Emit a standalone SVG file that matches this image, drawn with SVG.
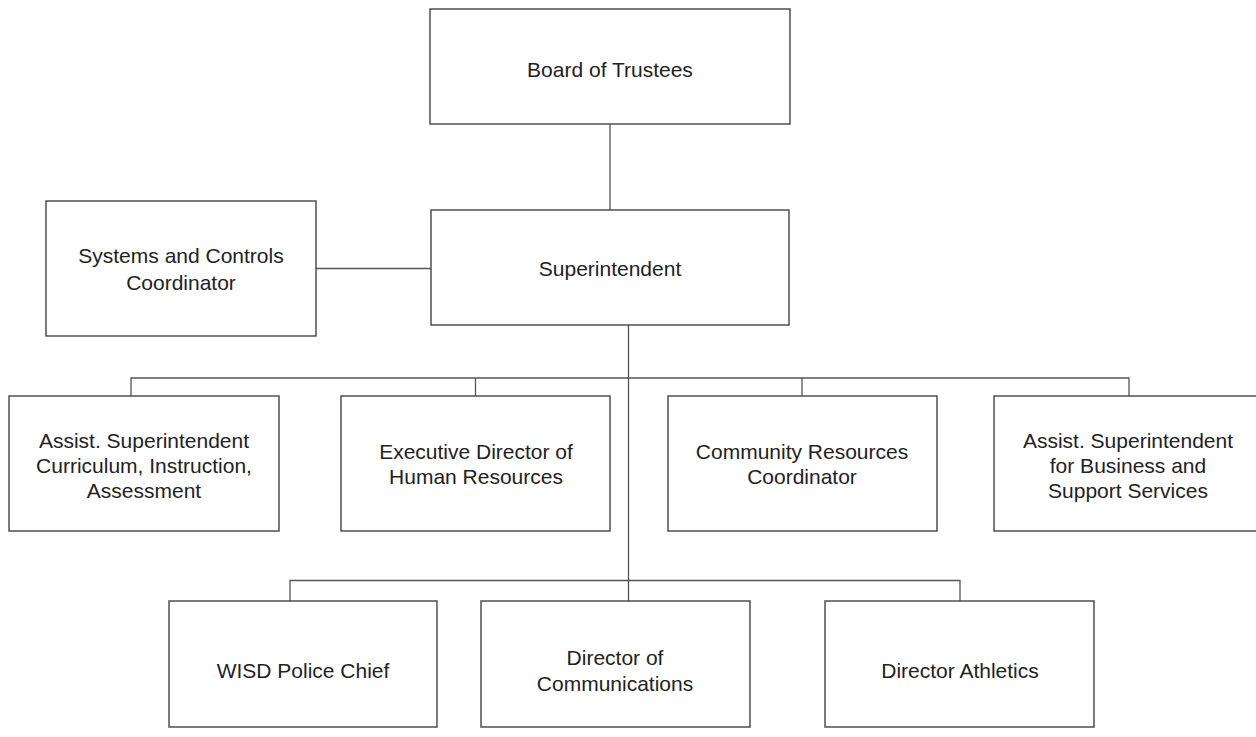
<svg xmlns="http://www.w3.org/2000/svg" width="1256" height="737" viewBox="0 0 1256 737">
<style>
.box{fill:#fff;stroke:#444;stroke-width:1.4}
.t{font-family:"Liberation Sans",Arial,sans-serif;font-size:21px;fill:#222;text-anchor:middle}
.c{fill:none;stroke:#555;stroke-width:1.3}
</style>
<rect width="1256" height="737" fill="#fff"/>
<g id="connectors">
<line class="c" x1="610" y1="124" x2="610" y2="210"/>
<line class="c" x1="316" y1="268.5" x2="431" y2="268.5"/>
<line class="c" x1="628.5" y1="325" x2="628.5" y2="601"/>
<polyline class="c" points="131,396 131,378 1129,378 1129,396"/>
<line class="c" x1="475.5" y1="378" x2="475.5" y2="396"/>
<line class="c" x1="802" y1="378" x2="802" y2="396"/>
<polyline class="c" points="290,601 290,580.5 960,580.5 960,601"/>
</g>
<g id="board"><rect class="box" x="430" y="9" width="360" height="115"/><text class="t" x="610" y="77">Board of Trustees</text></g>
<g id="systems"><rect class="box" x="46" y="201" width="270" height="135"/><text class="t" x="181" y="263">Systems and Controls</text><text class="t" x="181" y="290">Coordinator</text></g>
<g id="superintendent"><rect class="box" x="431" y="210" width="358" height="115"/><text class="t" x="610" y="276">Superintendent</text></g>
<g id="assist-curriculum"><rect class="box" x="9" y="396" width="270" height="135"/><text class="t" x="144" y="448">Assist. Superintendent</text><text class="t" x="144" y="473">Curriculum, Instruction,</text><text class="t" x="144" y="498">Assessment</text></g>
<g id="exec-hr"><rect class="box" x="341" y="396" width="269" height="135"/><text class="t" x="476" y="459">Executive Director of</text><text class="t" x="476" y="484">Human Resources</text></g>
<g id="community"><rect class="box" x="668" y="396" width="269" height="135"/><text class="t" x="802" y="459">Community Resources</text><text class="t" x="802" y="484">Coordinator</text></g>
<g id="assist-business"><rect class="box" x="994" y="396" width="269" height="135"/><text class="t" x="1128" y="448">Assist. Superintendent</text><text class="t" x="1128" y="473">for Business and</text><text class="t" x="1128" y="498">Support Services</text></g>
<g id="police"><rect class="box" x="169" y="601" width="268" height="126"/><text class="t" x="303" y="678">WISD Police Chief</text></g>
<g id="communications"><rect class="box" x="481" y="601" width="269" height="126"/><text class="t" x="615" y="665">Director of</text><text class="t" x="615" y="691">Communications</text></g>
<g id="athletics"><rect class="box" x="825" y="601" width="269" height="126"/><text class="t" x="960" y="678">Director Athletics</text></g>
</svg>
